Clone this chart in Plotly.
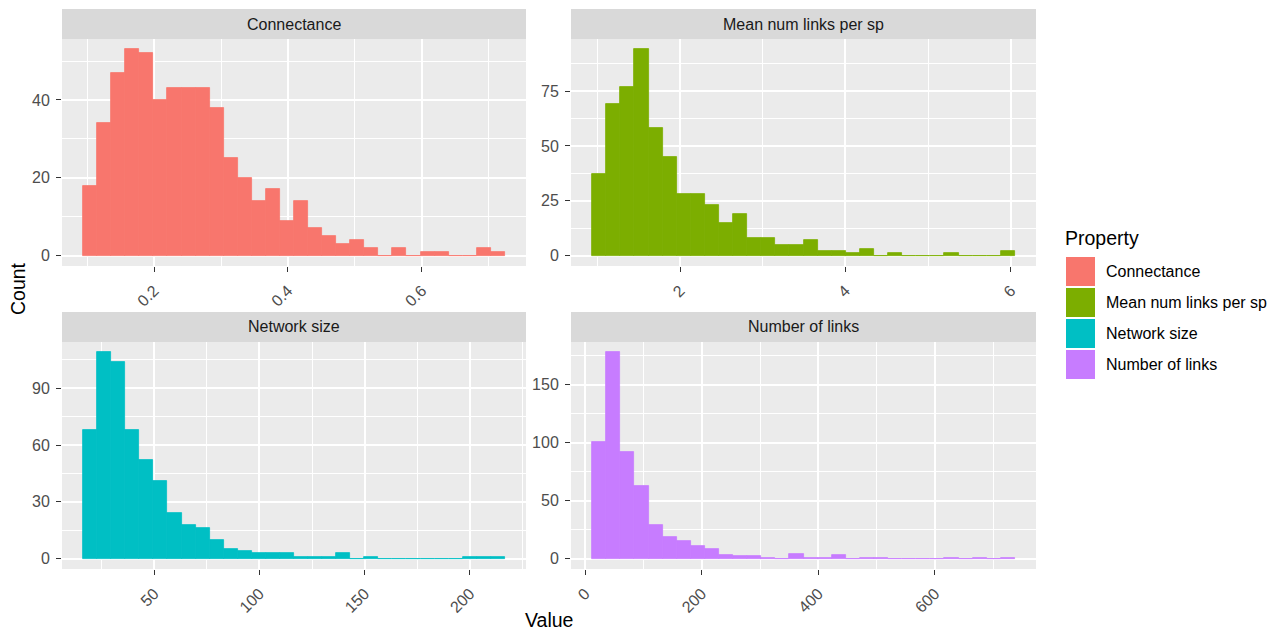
import plotly.graph_objects as go

# ---- data: binned counts per network property (30 bins each) ----
properties = ["Connectance", "Mean num links per sp", "Network size", "Number of links"]
fill_colors = ["#F8766D", "#7CAE00", "#00BFC4", "#C77CFF"]

connectance_counts = [18, 34, 47, 53, 52, 40, 43, 43, 43, 38, 25, 20, 14, 17, 9,
                      14, 7, 5, 3, 4, 2, 0, 2, 0, 1, 1, 0, 0, 2, 1]
connectance_bin_start = 0.094
connectance_bin_width = 0.021

links_per_sp_counts = [37, 69, 77, 94, 58, 45, 28, 28, 23, 15, 19, 8, 8, 5, 5,
                       7, 2, 2, 1, 3, 0, 1, 0, 0, 0, 1, 0, 0, 0, 2]
links_per_sp_bin_start = 0.937
links_per_sp_bin_width = 0.1704

network_size_counts = [68, 109, 104, 68, 52, 41, 24, 18, 16, 10, 5, 4, 3, 3, 3,
                       1, 1, 1, 3, 0, 1, 0, 0, 0, 0, 0, 0, 1, 1, 1]
network_size_bin_start = 16.2
network_size_bin_width = 6.68

num_links_counts = [101, 178, 92, 63, 29, 19, 15, 11, 8, 3, 2, 2, 1, 0, 4,
                    1, 1, 3, 0, 1, 1, 0, 0, 0, 0, 1, 0, 1, 0, 1]
num_links_bin_start = 12.0
num_links_bin_width = 24.17

x_tick_vals = [[0.2, 0.4, 0.6], [2, 4, 6], [50, 100, 150, 200], [0, 200, 400, 600]]
x_minor_vals = [[0.1, 0.3, 0.5, 0.7], [1, 3, 5], [25, 75, 125, 175, 225], [100, 300, 500, 700]]
y_tick_vals = [[0, 20, 40], [0, 25, 50, 75], [0, 30, 60, 90], [0, 50, 100, 150]]
y_minor_vals = [[10, 30, 50], [12.5, 37.5, 62.5, 87.5], [15, 45, 75, 105], [25, 75, 125, 175]]

panels = [
    (connectance_counts, connectance_bin_start, connectance_bin_width),
    (links_per_sp_counts, links_per_sp_bin_start, links_per_sp_bin_width),
    (network_size_counts, network_size_bin_start, network_size_bin_width),
    (num_links_counts, num_links_bin_start, num_links_bin_width),
]

# ---- page geometry (pixels) ----
W, H = 1279, 635
FONT = "Liberation Sans, Arial, sans-serif"
SMALL = 16     # tick, strip and legend labels
LARGE = 19.5   # axis and legend titles


def fx(p):
    return p / W


def fy(p):
    return 1 - p / H


col_px = [(62, 526), (571, 1036)]
row_px = [(39, 266), (342, 569)]   # panel top, bottom
STRIP_H = 30

fig = go.Figure()
layout_axes = {}
shapes = []
annotations = []

for i, (counts, start, width) in enumerate(panels):
    r, c = divmod(i, 2)
    n = i + 1
    xa = "x" if n == 1 else f"x{n}"
    ya = "y" if n == 1 else f"y{n}"
    centers = [start + width * (k + 0.5) for k in range(len(counts))]
    fig.add_trace(go.Bar(
        x=centers, y=counts, width=width,
        marker=dict(color=fill_colors[i], line=dict(color=fill_colors[i], width=0.8)),
        xaxis=xa, yaxis=ya, showlegend=False, hoverinfo="x+y",
    ))

    lo, hi = start, start + width * len(counts)
    pad = 0.05 * (hi - lo)
    ymax = max(counts)
    x0p, x1p = col_px[c]
    t, b = row_px[r]
    axis_common = dict(
        showgrid=True, gridcolor="white", gridwidth=2,
        zeroline=False, showline=False,
        ticks="outside", ticklen=5, tickwidth=1, tickcolor="#333333",
        tickfont=dict(family=FONT, size=SMALL, color="#4D4D4D"),
        ticklabelstandoff=3,
    )
    layout_axes["xaxis" + ("" if n == 1 else str(n))] = dict(
        axis_common,
        domain=[fx(x0p), fx(x1p)], anchor=ya,
        range=[lo - pad, hi + pad],
        tickvals=x_tick_vals[i], tickangle=-45,
        minor=dict(tickvals=x_minor_vals[i], showgrid=True, gridcolor="white",
                   gridwidth=1, ticks=""),
    )
    layout_axes["yaxis" + ("" if n == 1 else str(n))] = dict(
        axis_common,
        domain=[fy(b), fy(t)], anchor=xa,
        range=[-0.05 * ymax, 1.05 * ymax],
        tickvals=y_tick_vals[i],
        minor=dict(tickvals=y_minor_vals[i], showgrid=True, gridcolor="white",
                   gridwidth=1, ticks=""),
    )
    # panel background
    shapes.append(dict(type="rect", xref="paper", yref="paper",
                       x0=fx(x0p), x1=fx(x1p), y0=fy(b), y1=fy(t),
                       fillcolor="#EBEBEB", line=dict(width=0), layer="below"))
    # facet strip
    shapes.append(dict(type="rect", xref="paper", yref="paper",
                       x0=fx(x0p), x1=fx(x1p), y0=fy(t), y1=fy(t - STRIP_H),
                       fillcolor="#D9D9D9", line=dict(width=0), layer="below"))
    annotations.append(dict(text=properties[i], xref="paper", yref="paper",
                            x=fx((x0p + x1p) / 2), y=fy(t - STRIP_H / 2),
                            showarrow=False, xanchor="center", yanchor="middle",
                            font=dict(family=FONT, size=SMALL, color="#1A1A1A")))

# axis titles
annotations.append(dict(text="Count", xref="paper", yref="paper",
                        x=fx(18), y=fy(289), textangle=-90, showarrow=False,
                        xanchor="center", yanchor="middle",
                        font=dict(family=FONT, size=LARGE, color="black")))
annotations.append(dict(text="Value", xref="paper", yref="paper",
                        x=fx(549), y=fy(620), showarrow=False,
                        xanchor="center", yanchor="middle",
                        font=dict(family=FONT, size=LARGE, color="black")))

# legend
annotations.append(dict(text="Property", xref="paper", yref="paper",
                        x=fx(1063), y=fy(238), showarrow=False,
                        xanchor="left", yanchor="middle",
                        font=dict(family=FONT, size=LARGE, color="black")))
KEY = 29
for i, name in enumerate(properties):
    top = 257 + i * (KEY + 2)
    shapes.append(dict(type="rect", xref="paper", yref="paper",
                       x0=fx(1066), x1=fx(1066 + KEY), y0=fy(top + KEY), y1=fy(top),
                       fillcolor=fill_colors[i], line=dict(width=0)))
    annotations.append(dict(text=name, xref="paper", yref="paper",
                            x=fx(1104), y=fy(top + KEY / 2), showarrow=False,
                            xanchor="left", yanchor="middle",
                            font=dict(family=FONT, size=SMALL, color="black")))

fig.update_layout(
    width=W, height=H, autosize=False,
    margin=dict(l=0, r=0, t=0, b=0),
    paper_bgcolor="white", plot_bgcolor="rgba(0,0,0,0)",
    bargap=0, showlegend=False,
    shapes=shapes, annotations=annotations,
    **layout_axes,
)

fig.write_html("out.html")
